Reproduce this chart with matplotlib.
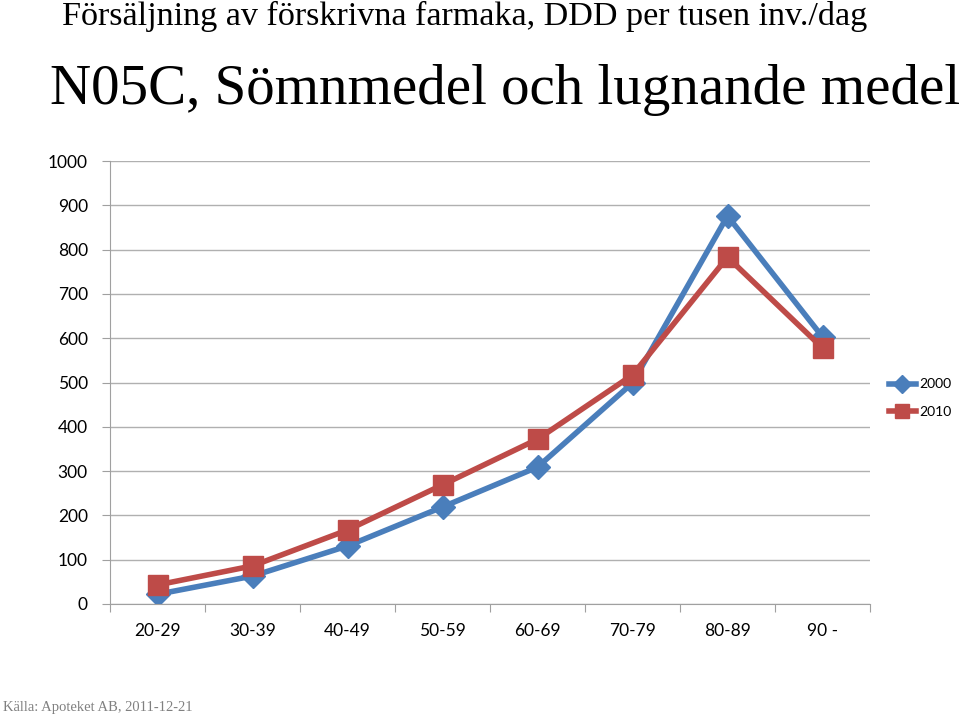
import matplotlib
matplotlib.use("Agg")
from matplotlib import pyplot as plt

# data
age_groups = ["20-29", "30-39", "40-49", "50-59", "60-69", "70-79", "80-89", "90 -"]
ddd_2000 = [22, 63, 131, 219, 309, 499, 876, 603]
ddd_2010 = [43, 86, 167, 269, 372, 517, 783, 578]
series_names = ["2000", "2010"]

blue = "#4A7EBB"
red = "#BE4B48"
tick_font = "Lato"

fig = plt.figure(figsize=(9.6, 7.17), dpi=100)
ax = fig.add_axes([110 / 960, 113 / 717, 760 / 960, 443 / 717])

x = list(range(len(age_groups)))
ax.plot(x, ddd_2000, color=blue, lw=4, marker="D", ms=12, label=series_names[0])
ax.plot(x, ddd_2010, color=red, lw=4, marker="s", ms=14, label=series_names[1])

ax.set_xlim(-0.5, len(age_groups) - 0.5)
ax.set_ylim(0, 1000)
ax.set_yticks(range(0, 1001, 100))
ax.yaxis.grid(True, color="#B0B0B0", lw=1)
ax.set_axisbelow(True)

# category ticks sit between the groups, labels at the centres
ax.set_xticks([i - 0.5 for i in range(len(age_groups) + 1)])
ax.set_xticklabels([])
ax.set_xticks(x, minor=True)
ax.set_xticklabels(age_groups, minor=True, fontsize=12.5, family=tick_font)
ax.tick_params(axis="x", which="minor", length=0, pad=14)
ax.tick_params(axis="x", which="major", length=6, color="#A0A0A0")
ax.tick_params(axis="y", length=6, color="#A0A0A0", labelsize=12.5, pad=10)
for lab in ax.get_yticklabels():
    lab.set_family(tick_font)

for side in ["top", "right"]:
    ax.spines[side].set_visible(False)
ax.spines["left"].set_color("#A0A0A0")
ax.spines["bottom"].set_color("#A0A0A0")

leg = ax.legend(loc="center left", bbox_to_anchor=(1.008, 0.465), frameon=False,
                prop={"family": tick_font, "size": 10}, handlelength=2.0,
                markerscale=0.75, handletextpad=0.2, labelspacing=1.1)

fig.text(62 / 960, 1 - 16 / 717, "Försäljning av förskrivna farmaka, DDD per tusen inv./dag",
         family="Liberation Serif", fontsize=24.6, va="center", ha="left")
fig.text(50 / 960, 1 - 90 / 717, "N05C, Sömnmedel och lugnande medel",
         family="Liberation Serif", fontsize=41, va="center", ha="left")
fig.text(3 / 960, 1 - 708 / 717, "Källa: Apoteket AB, 2011-12-21",
         family="Liberation Serif", fontsize=10.5, color="#808080", va="center", ha="left")

fig.savefig("out.png", dpi=100)
